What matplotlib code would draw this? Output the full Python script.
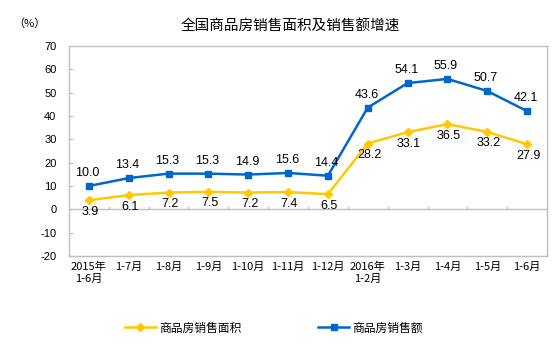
import matplotlib
matplotlib.use("Agg")
import matplotlib.pyplot as plt

plt.rcParams['font.family'] = ['Liberation Sans', 'Noto Sans CJK SC', 'DejaVu Sans']
plt.rcParams['axes.unicode_minus'] = False

# data
categories = ['2015年\n1-6月', '1-7月', '1-8月', '1-9月', '1-10月', '1-11月',
              '1-12月', '2016年\n1-2月', '1-3月', '1-4月', '1-5月', '1-6月']
area_growth = [3.9, 6.1, 7.2, 7.5, 7.2, 7.4, 6.5, 28.2, 33.1, 36.5, 33.2, 27.9]
sales_growth = [10.0, 13.4, 15.3, 15.3, 14.9, 15.6, 14.4, 43.6, 54.1, 55.9, 50.7, 42.1]
yticks = list(range(-20, 71, 10))

YELLOW = '#FFC800'
BLUE = '#0066CC'
GRID = '#BFBFBF'
CJK = ['Noto Sans CJK SC', 'DejaVu Sans']

fig = plt.figure(figsize=(5.54, 3.53), dpi=100)
ax = fig.add_axes([69 / 554, 1 - 256 / 353, 478 / 554, 210 / 353])

x = list(range(len(categories)))
ax.plot(x, area_growth, color=YELLOW, lw=1.8, marker='D', ms=4.5,
        label='商品房销售面积', zorder=3)
ax.plot(x, sales_growth, color=BLUE, lw=1.8, marker='s', ms=5,
        label='商品房销售额', zorder=3)

for xi, v in zip(x, sales_growth):
    ax.annotate(f'{v:.1f}', (xi, v), xytext=(-1, 5), textcoords='offset points',
                ha='center', va='bottom', fontsize=9)
for xi, v in zip(x, area_growth):
    ax.annotate(f'{v:.1f}', (xi, v), xytext=(1, -4), textcoords='offset points',
                ha='center', va='top', fontsize=9)

ax.set_xlim(-0.5, len(categories) - 0.5)
ax.set_ylim(-20, 70)
ax.set_yticks(yticks)
ax.set_xticks(x)
ax.set_xticklabels(categories, family=CJK, fontsize=8, linespacing=1.25)
ax.tick_params(axis='x', length=0, pad=4)
ax.tick_params(axis='y', direction='in', length=3, color=GRID, pad=9, labelsize=8)

# zero line with small category separators
ax.axhline(0, color=GRID, lw=1, zorder=1)
ax.vlines([i + 0.5 for i in x[:-1]], 0, 1.4, color=GRID, lw=1, zorder=1)

for s in ax.spines.values():
    s.set_color(GRID)
    s.set_linewidth(1)

fig.text(290 / 554, 1 - 27 / 353, '全国商品房销售面积及销售额增速', family=CJK,
         fontsize=10.5, ha='center', va='center')
fig.text(13 / 554, 1 - 24 / 353, '（%）', family=CJK, fontsize=8,
         ha='left', va='center')

handles, labels = ax.get_legend_handles_labels()
leg = fig.legend(handles, labels, loc='center', bbox_to_anchor=(274 / 554, 1 - 328 / 353),
                 ncol=2, frameon=False, prop={'family': CJK, 'size': 8.5},
                 handlelength=2.6, columnspacing=6.5, handletextpad=0.3)

fig.savefig('out.png', dpi=100)
